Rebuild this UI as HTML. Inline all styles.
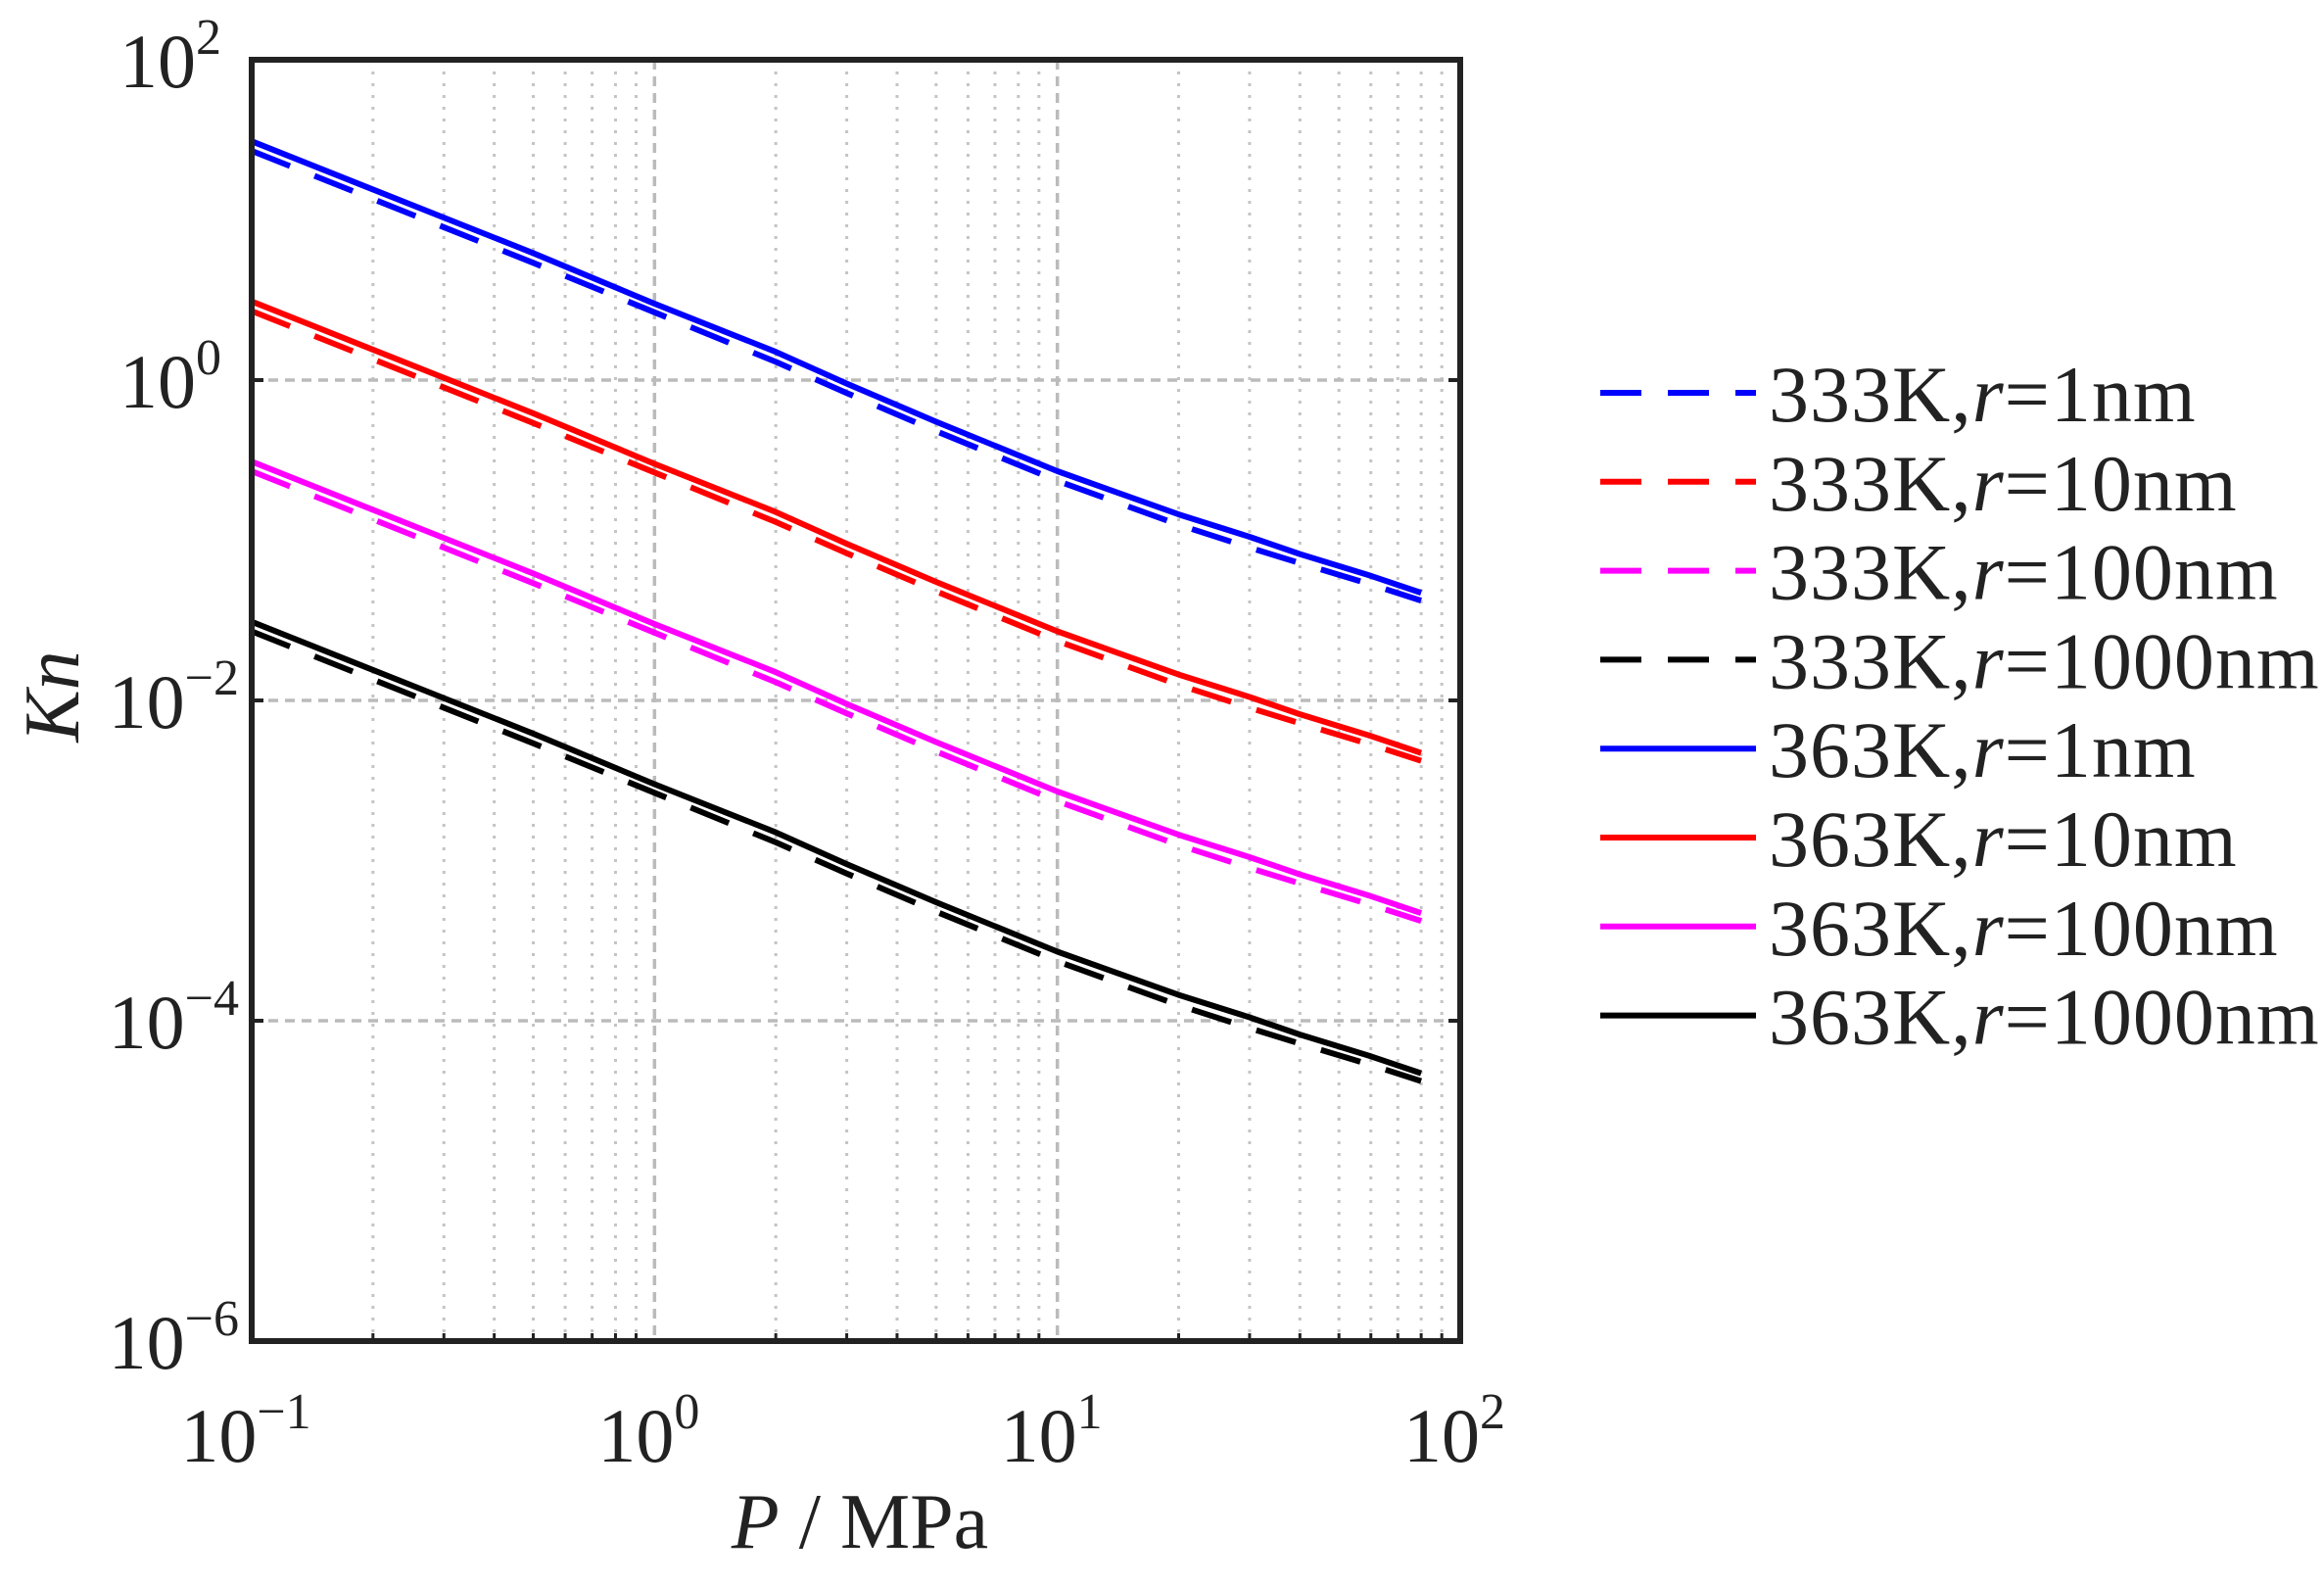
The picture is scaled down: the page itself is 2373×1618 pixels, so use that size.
<!DOCTYPE html>
<html><head><meta charset="utf-8"><style>
html,body{margin:0;padding:0;background:#fff;}
svg{display:block;font-family:"Liberation Serif",serif;}
</style></head><body>
<svg id="chart" width="2373" height="1618" viewBox="0 0 2373 1618" xmlns="http://www.w3.org/2000/svg">
<g id="grid"></g>
<g id="series"></g>
<rect x="257" y="61" width="1234" height="1308" fill="none" stroke="#222" stroke-width="6"/>
<g id="ticks"></g>
<text x="878" y="1580" font-size="80" text-anchor="middle" fill="#222"><tspan font-style="italic">P</tspan> / MPa</text>
<text transform="translate(80,711) rotate(-90)" font-size="80" text-anchor="middle" fill="#222" font-style="italic">Kn</text>
<g id="legend"></g>
</svg>
<script>
const pressures = [0.1,0.2,0.5,1,2,3,5,10,20,30,40,60,80];
const kn363r1 = [31,15.5,6.2,3.0,1.5,0.95,0.55,0.27,0.145,0.105,0.082,0.06,0.047];
const kn333r1 = [27,13.5,5.4,2.65,1.3,0.83,0.48,0.235,0.125,0.09,0.072,0.053,0.042];
const kn363r10 = [3.1,1.55,0.62,0.30,0.15,0.095,0.055,0.027,0.0145,0.0105,0.0082,0.006,0.0047];
const kn333r10 = [2.7,1.35,0.54,0.265,0.13,0.083,0.048,0.0235,0.0125,0.009,0.0072,0.0053,0.0042];
const kn363r100 = [0.31,0.155,0.062,0.030,0.015,0.0095,0.0055,0.0027,0.00145,0.00105,0.00082,0.0006,0.00047];
const kn333r100 = [0.27,0.135,0.054,0.0265,0.013,0.0083,0.0048,0.00235,0.00125,0.0009,0.00072,0.00053,0.00042];
const kn363r1000 = [0.031,0.0155,0.0062,0.0030,0.0015,0.00095,0.00055,0.00027,0.000145,0.000105,0.000082,0.00006,0.000047];
const kn333r1000 = [0.027,0.0135,0.0054,0.00265,0.0013,0.00083,0.00048,0.000235,0.000125,0.00009,0.000072,0.000053,0.000042];
const seriesLabels = ["333K,r=1nm","333K,r=10nm","333K,r=100nm","333K,r=1000nm","363K,r=1nm","363K,r=10nm","363K,r=100nm","363K,r=1000nm"];
const xTickExps = [-1,0,1,2];
const yTickExps = [2,0,-2,-4,-6];

const NS="http://www.w3.org/2000/svg";
const X0=257,X1=1491,Y0=61,Y1=1369;
const xMinL=-1,xMaxL=2,yMinL=-6,yMaxL=2;
function xs(v){return X0+(Math.log10(v)-xMinL)/(xMaxL-xMinL)*(X1-X0);}
function ys(v){return Y1-(Math.log10(v)-yMinL)/(yMaxL-yMinL)*(Y1-Y0);}
function mk(tag,attrs,parent){const e=document.createElementNS(NS,tag);for(const k in attrs)e.setAttribute(k,attrs[k]);parent.appendChild(e);return e;}

const grid=document.getElementById('grid');
for(let d=xMinL;d<xMaxL;d++){
  for(let m=1;m<10;m++){
    const v=m*Math.pow(10,d);
    if(m===1&&d===xMinL)continue;
    const x=xs(v);
    const l=mk('line',{x1:x,x2:x,y1:Y0,y2:Y1,stroke:m===1?'#bbbbbb':'#c4c4c4','stroke-width':m===1?3.5:3,'stroke-dasharray':m===1?'10,7':'3,9'},grid);
    
    
  }
}
[0,-2,-4].forEach(e=>{
  const y=ys(Math.pow(10,e));
  const l=mk('line',{x1:X0,x2:X1,y1:y,y2:y,stroke:'#bbbbbb','stroke-width':3.5,'stroke-dasharray':'10,7'},grid);
  
  
});

const ticks=document.getElementById('ticks');
xTickExps.forEach(e=>{
  const x=xs(Math.pow(10,e));
  const t=mk('text',{x:x-6,y:1492,'font-size':78,'text-anchor':'middle',fill:'#222'},ticks);
  
  
  t.innerHTML='10<tspan dy="-34" font-size="52">'+(e<0?'\u2212':'')+Math.abs(e)+'</tspan>';
});
for(let d=xMinL;d<xMaxL;d++){for(let m=2;m<10;m++){const x=xs(m*Math.pow(10,d));
  const tk=mk('line',{x1:x,x2:x,y1:Y1,y2:Y1-8,stroke:'#222','stroke-width':3},ticks);
  
  }}
yTickExps.forEach(e=>{
  const y=ys(Math.pow(10,e));
  const t=mk('text',{x:e<0?244:226,y:y+28,'font-size':78,'text-anchor':'end',fill:'#222'},ticks);
  
  
  t.innerHTML='10<tspan dy="-34" font-size="52">'+(e<0?'\u2212':'')+Math.abs(e)+'</tspan>';
  const tk=mk('line',{x1:X0,x2:X0+12,y1:y,y2:y,stroke:'#222','stroke-width':4},ticks);
  
  
  const tk2=mk('line',{x1:X1,x2:X1-12,y1:y,y2:y,stroke:'#222','stroke-width':4},ticks);
  
  
});

const allSeries=[kn333r1,kn333r10,kn333r100,kn333r1000,kn363r1,kn363r10,kn363r100,kn363r1000];
const colors=['#0000ff','#ff0000','#ff00ff','#000000','#0000ff','#ff0000','#ff00ff','#000000'];
const sg=document.getElementById('series');
allSeries.forEach((vals,i)=>{
  const d=vals.map((v,j)=>(j?'L':'M')+xs(pressures[j]).toFixed(1)+','+ys(v).toFixed(1)).join(' ');
  const attrs={d:d,fill:'none',stroke:colors[i],'stroke-width':6,'stroke-linejoin':'round'};
  if(i<4)attrs['stroke-dasharray']='42,27';
  const p=mk('path',attrs,sg);
  
  
});

const lg=document.getElementById('legend');
seriesLabels.forEach((lab,i)=>{
  const y=401+i*90.8;
  const attrs={x1:1634,x2:1793,y1:y,y2:y,stroke:colors[i],'stroke-width':6};
  if(i<4)attrs['stroke-dasharray']='42,27';
  const l=mk('line',attrs,lg);
  
  
  const parts=lab.split('r=');
  const t=mk('text',{x:1806,y:y+29,'font-size':82,fill:'#222','letter-spacing':'1'},lg);
  
  
  t.innerHTML=parts[0]+'<tspan font-style="italic">r</tspan>='+parts[1];
});
</script>
</body></html>
